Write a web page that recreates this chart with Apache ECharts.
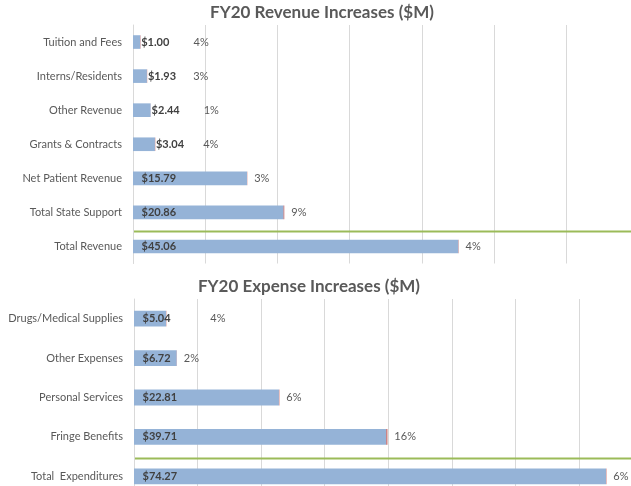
<!DOCTYPE html>
<html>
<head>
<meta charset="utf-8">
<script src="https://cdn.jsdelivr.net/npm/echarts@6/dist/echarts.min.js"></script>
<style>
html,body{margin:0;padding:0;background:#fff;}
#c{width:631px;height:486px;}
</style>
</head>
<body>
<div id="c"></div>
<script>
// ---- data ----
const revTitle = 'FY20 Revenue Increases ($M)';
const revCategories = ['Tuition and Fees','Interns/Residents','Other Revenue','Grants & Contracts','Net Patient Revenue','Total State Support','Total Revenue'];
const revValues = [1.00, 1.93, 2.44, 3.04, 15.79, 20.86, 45.06];
const revPct = [4, 3, 1, 4, 3, 9, 4];

const expTitle = 'FY20 Expense Increases ($M)';
const expCategories = ['Drugs/Medical Supplies','Other Expenses','Personal Services','Fringe Benefits','Total  Expenditures'];
const expValues = [5.04, 6.72, 22.81, 39.71, 74.27];
const expPct = [4, 2, 6, 16, 6];

// ---- layout (label nudges for manually placed % labels, px) ----
const revPctNudge = [46, 39, 46, 41, 0, 0, 0];
const expPctNudge = [37, 0, 0, 0, 0];

const FONT = 'Lato, "Open Sans", sans-serif';
const BLUE = '#95B3D7';
const RED = '#C0504D';
const GREEN = '#9BBB59';

function valueSeries(values, axisIdx) {
  return {
    type: 'bar', xAxisIndex: axisIdx, yAxisIndex: axisIdx, stack: 's' + axisIdx,
    barWidth: '40%',
    itemStyle: { color: BLUE },
    data: values.map(v => ({
      value: v,
      label: v < 4
        ? { show: true, position: 'right', distance: 1 }
        : { show: true, position: 'insideLeft', distance: 8.5 }
    })),
    label: {
      show: true, fontFamily: FONT, fontSize: 11, fontWeight: 'bold', color: '#404040',
      formatter: p => '$' + p.value.toFixed(2)
    },
    silent: true, animation: false
  };
}
function pctSeries(pcts, nudges, axisIdx) {
  return {
    type: 'bar', xAxisIndex: axisIdx, yAxisIndex: axisIdx, stack: 's' + axisIdx,
    barWidth: '40%',
    itemStyle: { color: RED },
    data: pcts.map((p, i) => ({
      value: p / 100,
      label: { offset: [nudges[i], 0] }
    })),
    label: {
      show: true, position: 'right', distance: 7,
      fontFamily: FONT, fontSize: 11, color: '#595959',
      formatter: p => pcts[p.dataIndex] + '%'
    },
    silent: true, animation: false
  };
}
function catAxis(cats, gridIdx) {
  return {
    type: 'category', gridIndex: gridIdx, data: cats, inverse: true,
    axisTick: { show: false },
    axisLine: { show: true, lineStyle: { color: '#D9D9D9', width: 1 } },
    axisLabel: { fontFamily: FONT, fontSize: 11, color: '#595959', margin: 11 }
  };
}
function valAxis(gridIdx, max) {
  return {
    type: 'value', gridIndex: gridIdx, min: 0, max: max, interval: 10,
    axisLabel: { show: false }, axisLine: { show: false }, axisTick: { show: false },
    splitLine: { show: true, lineStyle: { color: '#D9D9D9', width: 1 } }
  };
}

const chart = echarts.init(document.getElementById('c'), null, { renderer: 'canvas' });
chart.setOption({
  animation: false,
  title: [
    { text: revTitle, left: 322, top: 4, textAlign: 'center', padding: 0,
      textStyle: { fontFamily: FONT, fontSize: 17, fontWeight: 'bold', color: '#595959' } },
    { text: expTitle, left: 309, top: 278, textAlign: 'center', padding: 0,
      textStyle: { fontFamily: FONT, fontSize: 17, fontWeight: 'bold', color: '#595959' } }
  ],
  grid: [
    { left: 133, width: 505.4, top: 25, height: 238.5, outerBoundsMode: 'none', containLabel: false },
    { left: 134, width: 508.4, top: 299, height: 197, outerBoundsMode: 'none', containLabel: false }
  ],
  xAxis: [valAxis(0, 70), valAxis(1, 80)],
  yAxis: [catAxis(revCategories, 0), catAxis(expCategories, 1)],
  series: [
    valueSeries(revValues, 0), pctSeries(revPct, revPctNudge, 0),
    valueSeries(expValues, 1), pctSeries(expPct, expPctNudge, 1)
  ]
});

// separator lines between subtotal rows and totals
function sepY(axisIdx, cats) {
  const a = chart.convertToPixel({ yAxisIndex: axisIdx }, cats[cats.length - 2]);
  const b = chart.convertToPixel({ yAxisIndex: axisIdx }, cats[cats.length - 1]);
  return (a + b) / 2 + 2;
}
const y1 = sepY(0, revCategories);
const y2 = sepY(1, expCategories);
chart.setOption({
  graphic: [
    { type: 'line', shape: { x1: 133, y1: y1, x2: 631, y2: y1 }, style: { stroke: GREEN, lineWidth: 2 }, silent: true },
    { type: 'line', shape: { x1: 134, y1: y2, x2: 631, y2: y2 }, style: { stroke: GREEN, lineWidth: 2 }, silent: true }
  ]
});
</script>
</body>
</html>
